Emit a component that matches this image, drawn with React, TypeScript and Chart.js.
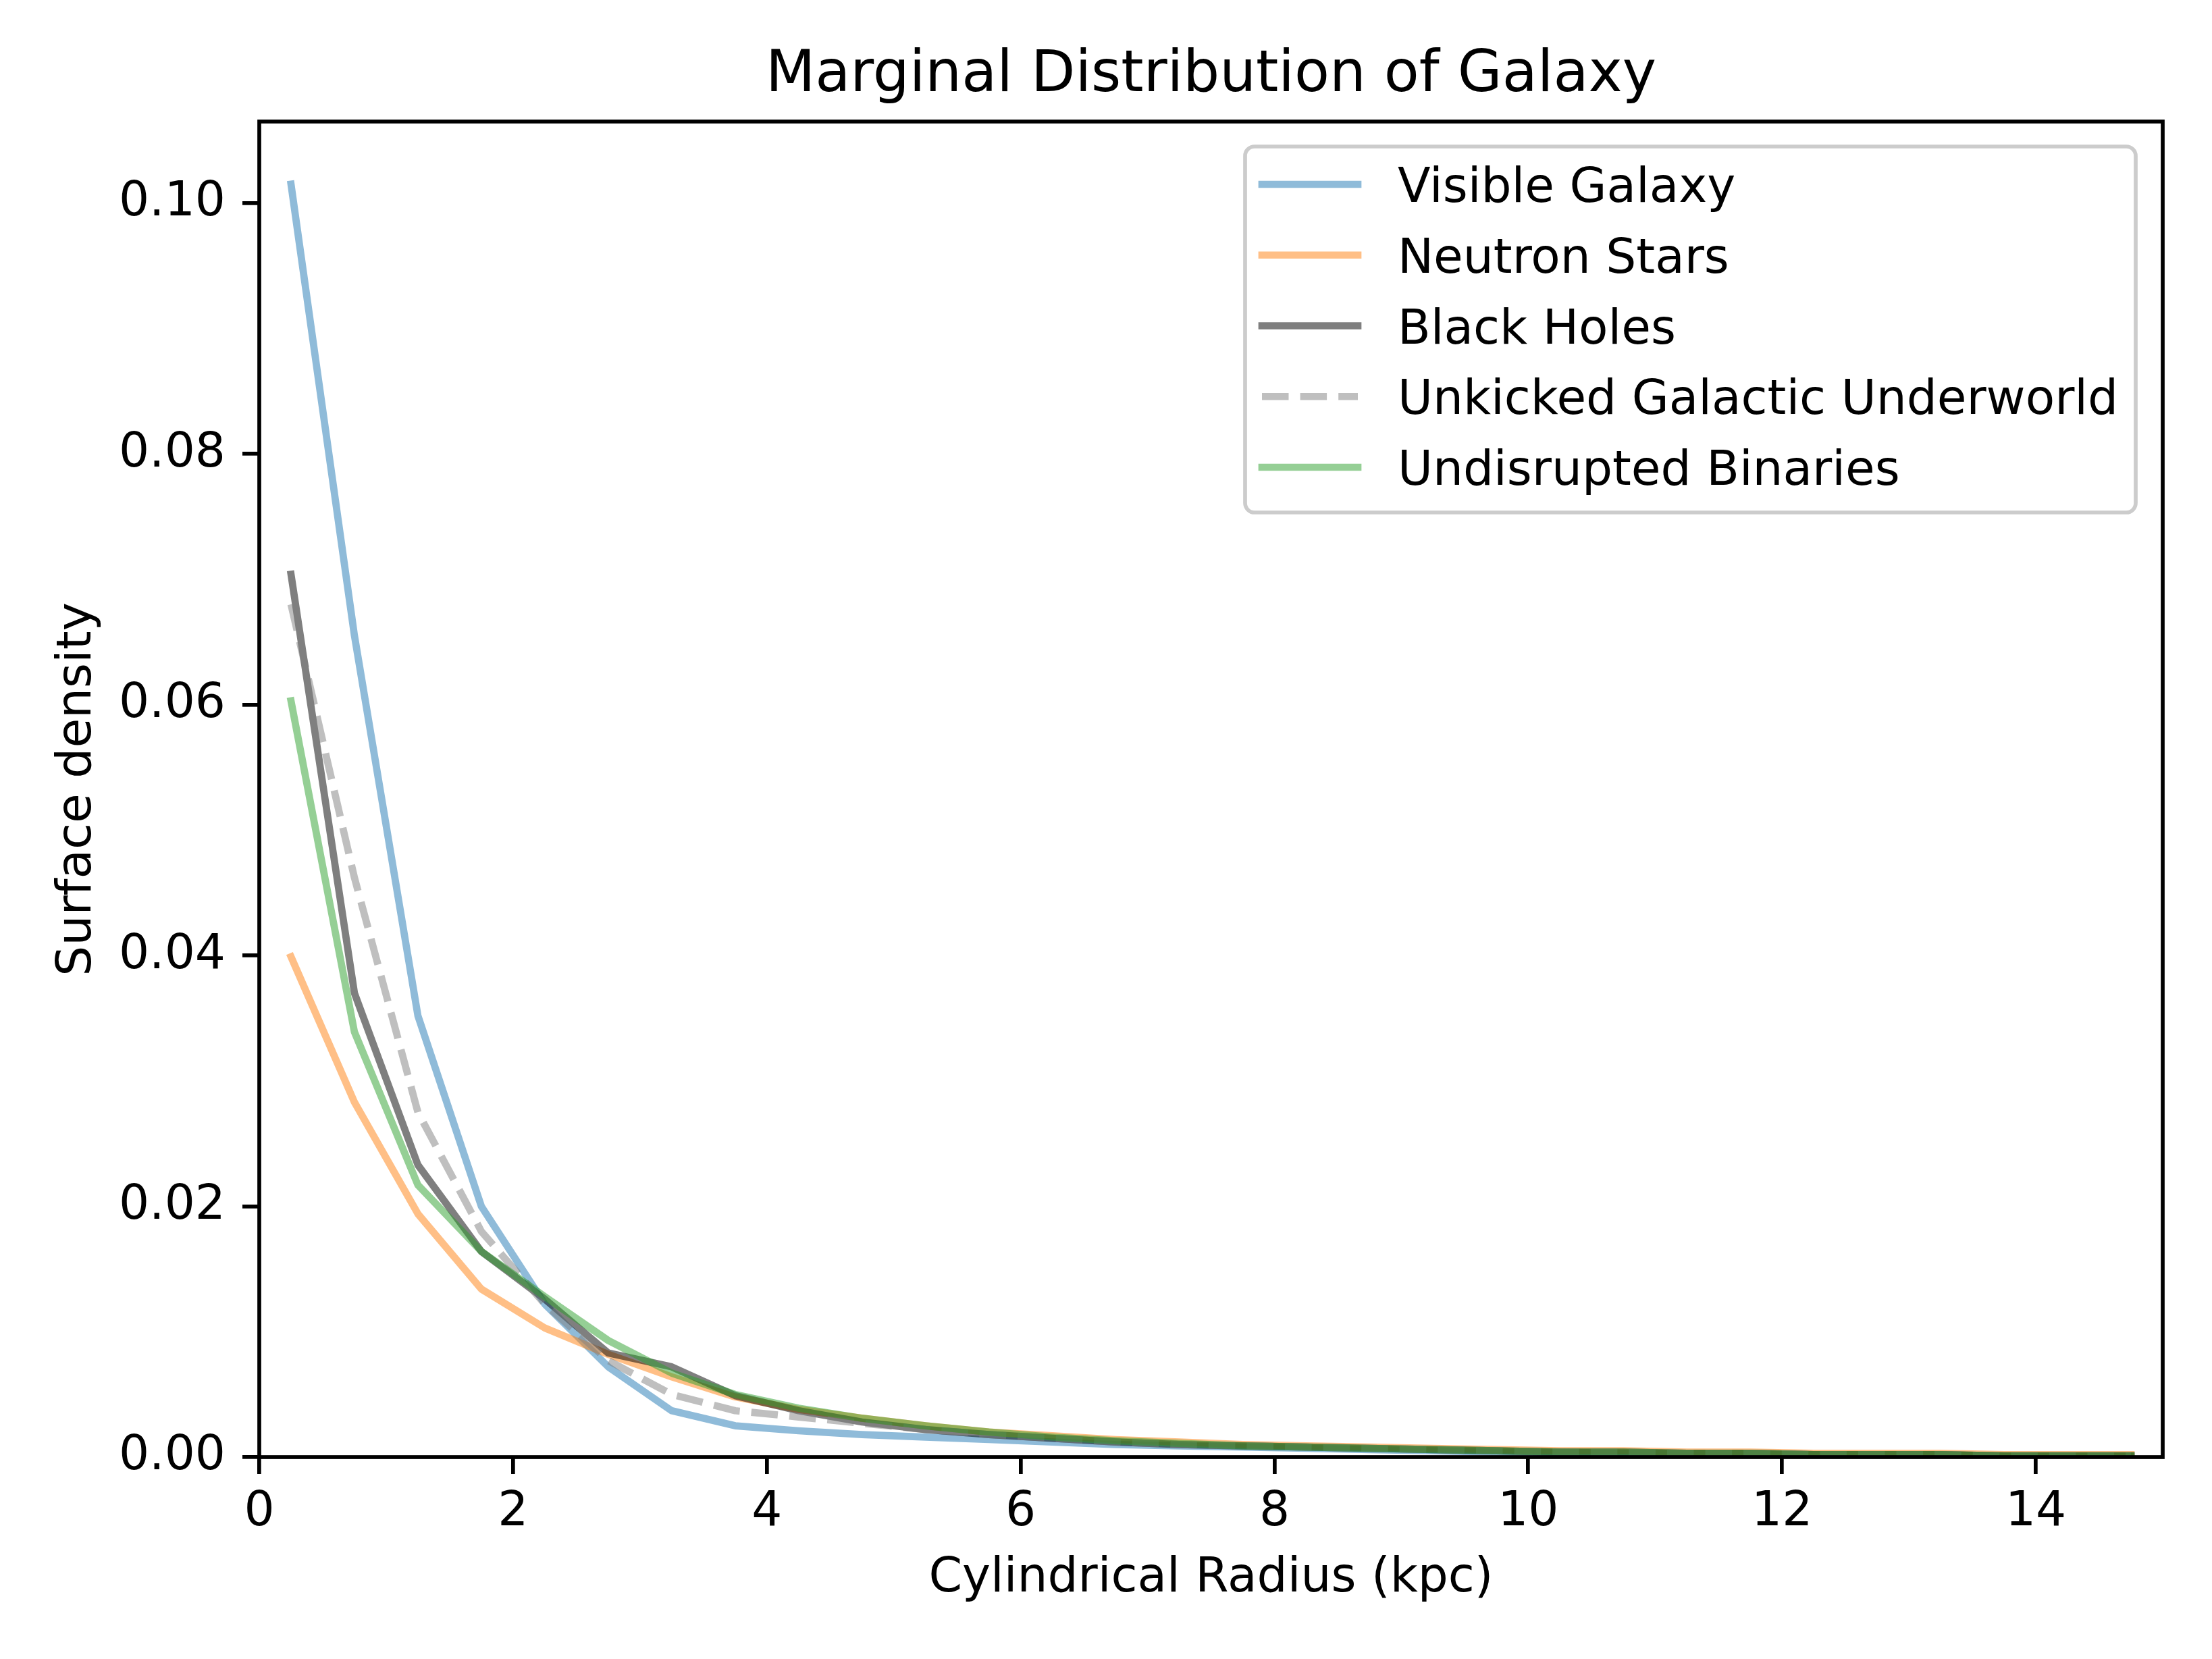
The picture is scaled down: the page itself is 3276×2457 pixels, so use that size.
import React, { useEffect, useRef } from 'react';
import Chart from 'chart.js/auto';

// bin centres (kpc)
const radius = [
  0.25, 0.75, 1.25, 1.75, 2.25, 2.75, 3.25, 3.75, 4.25, 4.75,
  5.25, 5.75, 6.25, 6.75, 7.25, 7.75, 8.25, 8.75, 9.25, 9.75,
  10.25, 10.75, 11.25, 11.75, 12.25, 12.75, 13.25, 13.75, 14.25, 14.75,
];

const visibleGalaxy = [
  0.1015, 0.0655, 0.0352, 0.0200, 0.0122, 0.0072, 0.0037, 0.0025, 0.0021, 0.0018,
  0.0016, 0.0014, 0.0012, 0.0010, 0.0009, 0.0008, 0.0007, 0.0006, 0.0005, 0.0004,
  0.0004, 0.0003, 0.0003, 0.0003, 0.0002, 0.0002, 0.0002, 0.0001, 0.0001, 0.0001,
];
const neutronStars = [
  0.0399, 0.0283, 0.0194, 0.0134, 0.0103, 0.0082, 0.0064, 0.0048, 0.0038, 0.0031,
  0.0025, 0.0020, 0.0017, 0.0014, 0.0012, 0.0010, 0.0009, 0.0008, 0.0007, 0.0006,
  0.0005, 0.0005, 0.0004, 0.0004, 0.0003, 0.0003, 0.0003, 0.0002, 0.0002, 0.0002,
];
const blackHoles = [
  0.0704, 0.0370, 0.0233, 0.0164, 0.0126, 0.0083, 0.0072, 0.0049, 0.0037, 0.0028,
  0.0022, 0.0018, 0.0015, 0.0012, 0.0010, 0.0009, 0.0008, 0.0007, 0.0006, 0.0005,
  0.0004, 0.0004, 0.0003, 0.0003, 0.0002, 0.0002, 0.0002, 0.0001, 0.0001, 0.0001,
];
const unkickedUnderworld = [
  0.0680, 0.0462, 0.0275, 0.0180, 0.0122, 0.0077, 0.0050, 0.0037, 0.0032, 0.0027,
  0.0022, 0.0018, 0.0015, 0.0012, 0.0010, 0.0009, 0.0008, 0.0007, 0.0006, 0.0005,
  0.0004, 0.0004, 0.0003, 0.0003, 0.0002, 0.0002, 0.0002, 0.0001, 0.0001, 0.0001,
];
const undisruptedBinaries = [
  0.0603, 0.0339, 0.0217, 0.0164, 0.0128, 0.0093, 0.0067, 0.0050, 0.0039, 0.0031,
  0.0025, 0.0020, 0.0016, 0.0013, 0.0011, 0.0009, 0.0008, 0.0007, 0.0006, 0.0005,
  0.0004, 0.0004, 0.0003, 0.0003, 0.0002, 0.0002, 0.0002, 0.0001, 0.0001, 0.0001,
];

const seriesLabels = [
  'Visible Galaxy',
  'Neutron Stars',
  'Black Holes',
  'Unkicked Galactic Underworld',
  'Undisrupted Binaries',
];
const seriesValues = [visibleGalaxy, neutronStars, blackHoles, unkickedUnderworld, undisruptedBinaries];
const seriesColors = [
  'rgba(31,119,180,0.5)',
  'rgba(255,127,14,0.5)',
  'rgba(0,0,0,0.5)',
  'rgba(128,128,128,0.5)',
  'rgba(44,160,44,0.5)',
];
const seriesDashed = [false, false, false, true, false];

const xTicks = [0, 2, 4, 6, 8, 10, 12, 14];
const yTicks = [0, 0.02, 0.04, 0.06, 0.08, 0.1];

const FONT = 'DejaVu Sans';
const LW = 10.7; // 1.5pt line
const SPINE = 5.7; // 0.8pt
const DASH = [39.5, 17.1];

// black box around the axes, like matplotlib spines
const framePlugin = {
  id: 'frame',
  afterDatasetsDraw(chart: any) {
    const { ctx, chartArea: a } = chart;
    ctx.save();
    ctx.strokeStyle = '#000';
    ctx.lineWidth = SPINE;
    ctx.lineJoin = 'miter';
    ctx.strokeRect(a.left, a.top, a.right - a.left, a.bottom - a.top);
    ctx.restore();
  },
};

// legend in the upper right corner of the plot
const legendPlugin = {
  id: 'cornerLegend',
  afterDraw(chart: any) {
    const { ctx, chartArea: a } = chart;
    const w = 1319;
    const h = 542;
    const left = a.right - 40 - w;
    const top = a.top + 37;
    ctx.save();
    ctx.beginPath();
    ctx.roundRect(left, top, w, h, 14);
    ctx.fillStyle = 'rgba(255,255,255,0.8)';
    ctx.fill();
    ctx.strokeStyle = '#cccccc';
    ctx.lineWidth = 5.7;
    ctx.stroke();

    ctx.font = `71px "${FONT}"`;
    ctx.textAlign = 'left';
    ctx.textBaseline = 'alphabetic';
    chart.data.datasets.forEach((ds: any, i: number) => {
      const cy = top + 56 + i * 104.75;
      ctx.beginPath();
      ctx.strokeStyle = ds.borderColor;
      ctx.lineWidth = LW;
      if (ds.borderDash && ds.borderDash.length) {
        ctx.setLineDash(ds.borderDash);
        ctx.lineCap = 'butt';
      } else {
        ctx.setLineDash([]);
        ctx.lineCap = 'square';
      }
      ctx.moveTo(left + 25, cy);
      ctx.lineTo(left + 167, cy);
      ctx.stroke();
      ctx.setLineDash([]);
      ctx.fillStyle = '#000';
      ctx.fillText(ds.label, left + 226, cy + 26);
    });
    ctx.restore();
  },
};

const App: React.FC = () => {
  const canvasRef = useRef<HTMLCanvasElement>(null);
  const chartRef = useRef<any>(null);

  useEffect(() => {
    document.body.style.margin = '0';
    document.body.style.overflow = 'hidden';
    if (chartRef.current) chartRef.current.destroy();
    if (!canvasRef.current) return;

    const datasets = seriesLabels.map((label, i) => ({
      label,
      data: radius.map((r, j) => ({ x: r, y: seriesValues[i][j] })),
      borderColor: seriesColors[i],
      backgroundColor: seriesColors[i],
      borderWidth: LW,
      borderDash: seriesDashed[i] ? DASH : [],
      borderCapStyle: seriesDashed[i] ? 'butt' : 'square',
      borderJoinStyle: 'round',
      pointRadius: 0,
      fill: false,
      tension: 0,
      order: seriesLabels.length - 1 - i,
    }));

    const tickFont = { family: FONT, size: 71 };

    chartRef.current = new Chart(canvasRef.current, {
      type: 'line',
      data: { datasets } as any,
      options: {
        animation: false,
        responsive: false,
        devicePixelRatio: 1,
        layout: { padding: { left: 0, right: 73, top: 0, bottom: 0 }, autoPadding: false },
        plugins: {
          legend: { display: false },
          tooltip: { enabled: false },
          title: {
            display: true,
            fullSize: false,
            text: 'Marginal Distribution of Galaxy',
            color: '#000',
            font: { family: FONT, size: 85, weight: 'normal' },
            padding: { top: 62, bottom: 16 },
          },
        },
        scales: {
          x: {
            type: 'linear',
            position: 'bottom',
            min: 0,
            max: 15,
            afterFit: (s: any) => { s.height = 299; },
            afterBuildTicks: (s: any) => { s.ticks = xTicks.map(v => ({ value: v })); },
            ticks: {
              color: '#000',
              font: tickFont,
              padding: 15,
              autoSkip: false,
              maxRotation: 0,
              callback: (v: any) => String(v),
            },
            grid: {
              drawOnChartArea: false,
              drawTicks: true,
              tickLength: 25,
              tickWidth: SPINE,
              tickColor: '#000',
              lineWidth: SPINE,
            },
            border: { display: false },
            title: {
              display: true,
              text: 'Cylindrical Radius (kpc)',
              color: '#000',
              font: { family: FONT, size: 71 },
              padding: { top: 0, bottom: 76 },
            },
          },
          y: {
            type: 'linear',
            position: 'left',
            min: 0,
            max: 0.1065,
            afterFit: (s: any) => { s.width = 384; },
            afterBuildTicks: (s: any) => { s.ticks = yTicks.map(v => ({ value: v })); },
            ticks: {
              color: '#000',
              font: tickFont,
              padding: 25,
              autoSkip: false,
              callback: (v: any) => Number(v).toFixed(2),
            },
            grid: {
              drawOnChartArea: false,
              drawTicks: true,
              tickLength: 25,
              tickWidth: SPINE,
              tickColor: '#000',
              lineWidth: SPINE,
            },
            border: { display: false },
            title: {
              display: true,
              text: 'Surface density',
              color: '#000',
              font: { family: FONT, size: 71 },
              padding: { top: 73, bottom: 0 },
            },
          },
        },
      } as any,
      plugins: [framePlugin, legendPlugin],
    });

    return () => {
      if (chartRef.current) {
        chartRef.current.destroy();
        chartRef.current = null;
      }
    };
  }, []);

  return (
    <div style={{ width: 3276, height: 2457, background: '#fff' }}>
      <canvas ref={canvasRef} width={3276} height={2457} style={{ display: 'block' }}></canvas>
    </div>
  );
};

export default App;
